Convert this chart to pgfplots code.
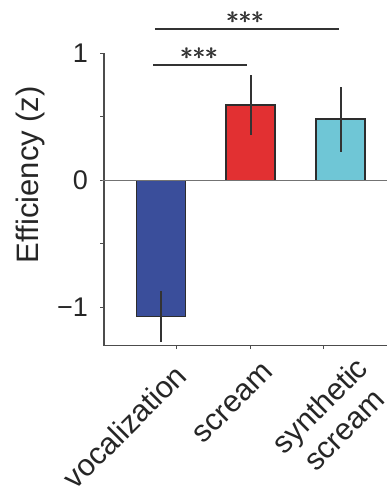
\documentclass[border=0pt]{standalone}
\usepackage{fontspec}
\setmainfont{Liberation Sans}
\usepackage{pgfplots}
\pgfplotsset{compat=1.18}
\definecolor{cblue}{RGB}{58,78,155}
\definecolor{cred}{RGB}{226,48,50}
\definecolor{ccyan}{RGB}{111,198,214}
\definecolor{cedge}{RGB}{45,45,45}
\pgfplotsset{mybar/.style={draw=cedge, line width=1.6pt, fill=#1,
    error bars/.cd, y dir=both, y explicit, error mark=none,
    error bar style={draw=black!80, line width=2pt}}}
\begin{document}
\begin{tikzpicture}
\begin{axis}[
  at={(0,0)}, anchor=south west,
  scale only axis, width=283pt, height=292.4pt,
  xmin=-0.635, xmax=2.518, ymin=-1.3, ymax=1.0,
  axis x line*=bottom, axis y line*=left,
  axis line style={draw=black!70, line width=1.1pt},
  tick style={draw=black!70, line width=1pt},
  tick align=outside, major tick length=3.5pt, minor tick length=3.5pt,
  ytick={-1,0,1}, yticklabels={−1,0,1},
  minor ytick={-0.5,0.5},
  xtick={0,1,2},
  xticklabels={vocalization,scream,{\hbox{\raisebox{0pt}[\dimexpr\height-6.4pt\relax]{\begin{tabular}{@{}c@{}}synthetic\\scream\end{tabular}}\kern-6.4pt}}},
  xtick style={draw=none},
  extra x ticks={0.178,1,1.805}, extra x tick labels={},
  extra x tick style={xtick style={draw=black!70, line width=1pt}},
  xticklabel style={rotate=45, anchor=north east, align=center, font=\fontsize{30.5}{34.5}\selectfont, inner sep=2pt, xshift=1.4pt, yshift=-15.6pt, text=black!85},
  yticklabel style={font=\fontsize{27}{30}\selectfont, text=black!85, xshift=-9pt},
  ylabel={Efficiency (z)},
  every axis y label/.style={at={(ticklabel cs:0.585)}, rotate=90, anchor=south, yshift=5pt, font=\fontsize{31}{35}\selectfont, text=black!85},
  clip=false,
  ybar, bar width=0.547, bar shift=0pt,
]
\addplot[mybar=cblue] coordinates {(0,-1.071) +- (0,0.2)};
\addplot[mybar=cred] coordinates {(1,0.594) +- (0,0.233)};
\addplot[mybar=ccyan] coordinates {(2,0.481) +- (0,0.255)};
\draw[black!55, line width=1pt] (axis cs:-0.66,0) -- (axis cs:2.518,0);
\draw[black!80, line width=2pt] (axis cs:-0.067,1.19) -- (axis cs:1.983,1.19);
\draw[black!80, line width=2pt] (axis cs:-0.089,0.908) -- (axis cs:0.958,0.908);
\coordinate (s1) at (axis cs:0.936,1.28);
\coordinate (s2) at (axis cs:0.423,1.0);
\end{axis}
\foreach \dx in {-0.45pt,0pt,0.45pt}{
\node[font=\fontsize{34}{34}\selectfont, text=black!80, inner sep=0pt, xshift=\dx] at (s1) {${\ast}{\ast}{\ast}$};
\node[font=\fontsize{34}{34}\selectfont, text=black!80, inner sep=0pt, xshift=\dx] at (s2) {${\ast}{\ast}{\ast}$};
}
\pgfresetboundingbox
\path (-104pt,-144.3pt) rectangle (283pt,345.7pt);
\end{tikzpicture}
\end{document}
